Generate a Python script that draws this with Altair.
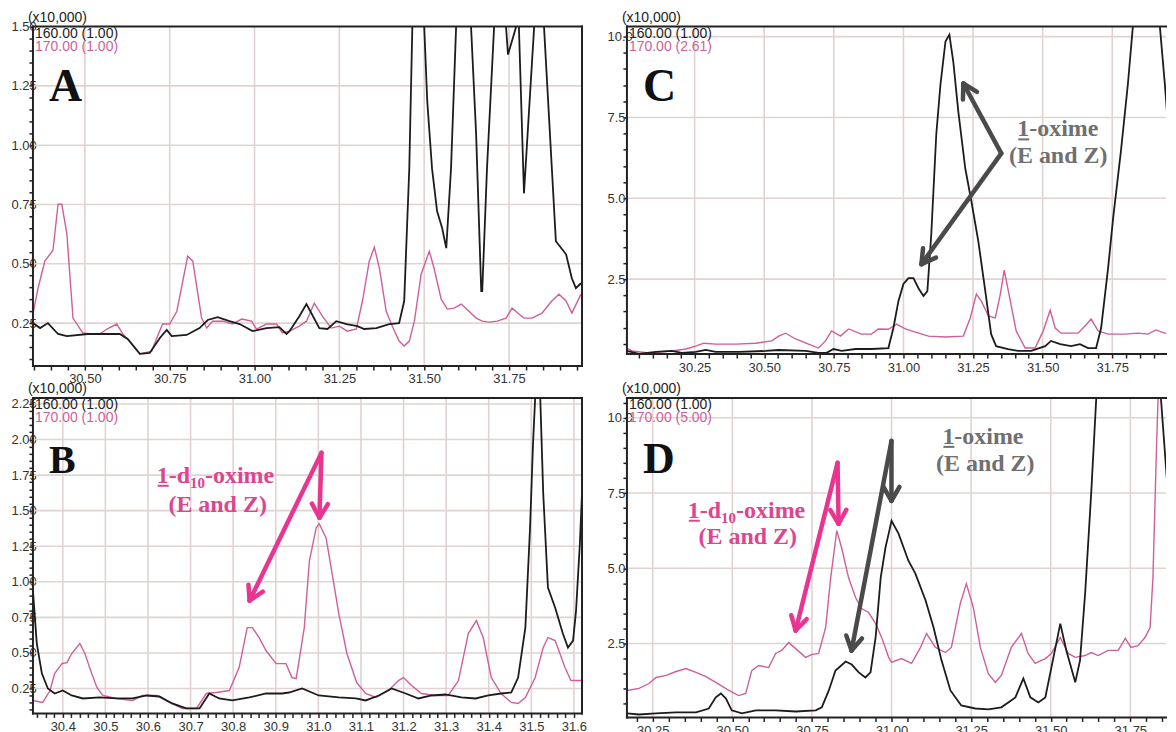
import math
import altair as alt
import pandas as pd

# ---------------- data (retention time in min, intensity x10,000) ----------------
A_t_black = [30.347, 30.368, 30.391, 30.421, 30.447, 30.509, 30.544, 30.603, 30.626, 30.662, 30.691, 30.721, 30.741, 30.756, 30.800, 30.838, 30.862, 30.891, 30.926, 30.956, 30.994, 31.035, 31.073, 31.094, 31.103, 31.132, 31.153, 31.191, 31.215, 31.241, 31.271, 31.303, 31.323, 31.359, 31.397, 31.426, 31.441, 31.456, 31.465, 31.482, 31.500, 31.509, 31.523, 31.538, 31.553, 31.565, 31.579, 31.594, 31.616, 31.638, 31.653, 31.668, 31.671, 31.685, 31.706, 31.724, 31.741, 31.747, 31.771, 31.775, 31.779, 31.794, 31.824, 31.838, 31.853, 31.888, 31.918, 31.935, 31.947, 31.962]
A_v_black = [0.250, 0.229, 0.250, 0.204, 0.195, 0.204, 0.204, 0.204, 0.183, 0.120, 0.124, 0.187, 0.221, 0.195, 0.200, 0.229, 0.263, 0.275, 0.258, 0.246, 0.216, 0.229, 0.233, 0.204, 0.216, 0.279, 0.330, 0.229, 0.225, 0.258, 0.246, 0.237, 0.225, 0.229, 0.246, 0.250, 0.343, 0.902, 1.500, 1.700, 1.500, 1.184, 0.902, 0.721, 0.650, 0.566, 0.902, 1.500, 1.700, 1.500, 1.045, 0.385, 0.385, 0.902, 1.500, 1.700, 1.500, 1.382, 1.500, 1.600, 1.500, 0.797, 1.500, 1.700, 1.500, 0.595, 0.540, 0.439, 0.397, 0.418]
A_t_pink = [30.347, 30.362, 30.382, 30.397, 30.406, 30.421, 30.432, 30.447, 30.465, 30.494, 30.521, 30.544, 30.565, 30.594, 30.612, 30.632, 30.662, 30.697, 30.712, 30.729, 30.750, 30.771, 30.803, 30.818, 30.844, 30.859, 30.876, 30.906, 30.935, 30.962, 30.991, 31.006, 31.035, 31.065, 31.082, 31.103, 31.132, 31.153, 31.176, 31.200, 31.226, 31.250, 31.273, 31.300, 31.318, 31.338, 31.353, 31.368, 31.388, 31.406, 31.426, 31.441, 31.456, 31.471, 31.491, 31.515, 31.529, 31.550, 31.568, 31.588, 31.609, 31.632, 31.653, 31.671, 31.691, 31.715, 31.741, 31.759, 31.779, 31.794, 31.818, 31.847, 31.876, 31.897, 31.918, 31.935, 31.962]
A_v_pink = [0.288, 0.397, 0.511, 0.540, 0.557, 0.751, 0.751, 0.625, 0.271, 0.208, 0.204, 0.204, 0.225, 0.246, 0.204, 0.174, 0.120, 0.132, 0.187, 0.246, 0.246, 0.300, 0.532, 0.511, 0.271, 0.229, 0.258, 0.258, 0.246, 0.267, 0.258, 0.225, 0.246, 0.246, 0.208, 0.216, 0.237, 0.258, 0.334, 0.279, 0.229, 0.237, 0.216, 0.225, 0.343, 0.511, 0.570, 0.481, 0.300, 0.237, 0.174, 0.153, 0.174, 0.258, 0.456, 0.553, 0.481, 0.351, 0.309, 0.313, 0.330, 0.300, 0.271, 0.258, 0.254, 0.258, 0.271, 0.313, 0.288, 0.271, 0.271, 0.292, 0.343, 0.372, 0.343, 0.292, 0.372]

B_t_black = [30.330, 30.339, 30.351, 30.365, 30.381, 30.400, 30.421, 30.447, 30.487, 30.526, 30.564, 30.597, 30.627, 30.657, 30.690, 30.721, 30.744, 30.767, 30.798, 30.838, 30.877, 30.915, 30.931, 30.962, 31.001, 31.048, 31.088, 31.111, 31.142, 31.172, 31.205, 31.235, 31.266, 31.298, 31.336, 31.369, 31.399, 31.429, 31.453, 31.469, 31.486, 31.497, 31.504, 31.509, 31.514, 31.521, 31.528, 31.539, 31.556, 31.574, 31.586, 31.598, 31.605, 31.614, 31.619]
B_v_black = [0.938, 0.566, 0.355, 0.250, 0.215, 0.236, 0.201, 0.180, 0.187, 0.180, 0.180, 0.201, 0.194, 0.145, 0.110, 0.110, 0.215, 0.180, 0.166, 0.187, 0.215, 0.215, 0.222, 0.250, 0.201, 0.187, 0.180, 0.166, 0.201, 0.250, 0.215, 0.180, 0.201, 0.208, 0.187, 0.180, 0.201, 0.215, 0.222, 0.327, 0.678, 1.380, 1.970, 2.290, 2.600, 2.290, 1.618, 0.959, 0.818, 0.636, 0.538, 0.587, 0.797, 1.270, 1.625]
B_t_pink = [30.330, 30.353, 30.370, 30.381, 30.398, 30.410, 30.421, 30.440, 30.452, 30.463, 30.480, 30.494, 30.526, 30.564, 30.587, 30.620, 30.650, 30.681, 30.714, 30.737, 30.760, 30.791, 30.814, 30.833, 30.845, 30.861, 30.877, 30.901, 30.924, 30.938, 30.948, 30.967, 30.979, 30.995, 31.002, 31.018, 31.030, 31.048, 31.067, 31.090, 31.111, 31.135, 31.165, 31.188, 31.200, 31.219, 31.242, 31.275, 31.305, 31.329, 31.352, 31.371, 31.387, 31.406, 31.429, 31.453, 31.469, 31.486, 31.509, 31.528, 31.539, 31.556, 31.579, 31.593, 31.617]
B_v_pink = [0.166, 0.152, 0.236, 0.355, 0.425, 0.432, 0.496, 0.566, 0.496, 0.397, 0.257, 0.201, 0.180, 0.166, 0.201, 0.201, 0.152, 0.110, 0.110, 0.215, 0.222, 0.236, 0.397, 0.678, 0.678, 0.608, 0.517, 0.425, 0.425, 0.327, 0.320, 0.678, 1.148, 1.380, 1.408, 1.310, 1.099, 0.776, 0.496, 0.292, 0.215, 0.187, 0.236, 0.306, 0.327, 0.271, 0.215, 0.201, 0.201, 0.306, 0.636, 0.727, 0.608, 0.327, 0.215, 0.152, 0.145, 0.187, 0.327, 0.538, 0.608, 0.587, 0.397, 0.306, 0.306]

C_t_black = [30.007, 30.050, 30.111, 30.168, 30.204, 30.254, 30.290, 30.326, 30.409, 30.505, 30.552, 30.649, 30.695, 30.724, 30.749, 30.778, 30.828, 30.885, 30.946, 30.964, 30.982, 31.000, 31.018, 31.036, 31.054, 31.072, 31.086, 31.100, 31.118, 31.133, 31.151, 31.165, 31.179, 31.197, 31.222, 31.244, 31.269, 31.294, 31.315, 31.333, 31.376, 31.412, 31.459, 31.509, 31.530, 31.563, 31.602, 31.634, 31.663, 31.692, 31.710, 31.735, 31.753, 31.781, 31.806, 31.824, 31.870, 31.921, 31.939, 31.957, 31.971]
C_v_black = [0.28, 0.19, 0.25, 0.28, 0.22, 0.25, 0.31, 0.25, 0.25, 0.28, 0.31, 0.28, 0.22, 0.22, 0.34, 0.28, 0.34, 0.34, 0.37, 0.99, 1.82, 2.35, 2.53, 2.53, 2.22, 1.98, 2.13, 3.89, 6.98, 8.52, 9.85, 10.06, 9.23, 7.69, 5.93, 4.91, 3.67, 2.13, 0.80, 0.43, 0.34, 0.28, 0.28, 0.43, 0.59, 0.49, 0.43, 0.49, 0.37, 0.37, 0.99, 2.84, 4.38, 6.45, 8.52, 10.31, 11.0, 10.31, 8.52, 6.45, 4.91]
C_t_pink = [30.007, 30.025, 30.086, 30.168, 30.219, 30.254, 30.283, 30.326, 30.398, 30.470, 30.527, 30.552, 30.577, 30.613, 30.659, 30.695, 30.720, 30.742, 30.774, 30.803, 30.849, 30.885, 30.910, 30.946, 30.975, 31.007, 31.043, 31.090, 31.151, 31.215, 31.240, 31.262, 31.280, 31.305, 31.330, 31.348, 31.362, 31.384, 31.405, 31.437, 31.473, 31.502, 31.527, 31.545, 31.566, 31.627, 31.652, 31.674, 31.699, 31.735, 31.796, 31.842, 31.878, 31.907, 31.939, 31.971]
C_v_pink = [0.37, 0.28, 0.22, 0.28, 0.34, 0.43, 0.52, 0.49, 0.49, 0.52, 0.59, 0.74, 0.83, 0.65, 0.49, 0.37, 0.59, 0.90, 0.74, 0.96, 0.80, 0.80, 0.96, 0.95, 1.11, 0.96, 0.86, 0.74, 0.71, 0.74, 1.30, 2.04, 1.82, 1.36, 1.30, 2.04, 2.78, 1.82, 0.90, 0.37, 0.37, 0.90, 1.54, 0.99, 0.83, 0.83, 1.05, 1.27, 0.90, 0.80, 0.80, 0.83, 0.80, 0.93, 0.83, 0.80]

D_t_black = [30.169, 30.207, 30.260, 30.323, 30.386, 30.426, 30.448, 30.464, 30.480, 30.498, 30.530, 30.574, 30.636, 30.699, 30.762, 30.781, 30.803, 30.824, 30.856, 30.875, 30.897, 30.918, 30.934, 30.950, 30.966, 30.981, 30.991, 31.000, 31.022, 31.053, 31.075, 31.107, 31.132, 31.157, 31.185, 31.219, 31.263, 31.304, 31.345, 31.389, 31.414, 31.436, 31.461, 31.483, 31.502, 31.530, 31.549, 31.577, 31.592, 31.608, 31.627, 31.643, 31.700, 31.800, 31.846, 31.868, 31.887]
D_v_black = [0.18, 0.14, 0.18, 0.21, 0.21, 0.34, 0.71, 0.84, 0.67, 0.28, 0.18, 0.28, 0.28, 0.24, 0.28, 0.38, 0.94, 1.60, 1.90, 1.80, 1.54, 1.37, 1.54, 2.70, 4.69, 5.69, 6.15, 6.58, 6.15, 5.25, 4.82, 3.93, 3.03, 1.94, 0.94, 0.44, 0.34, 0.31, 0.38, 0.71, 1.34, 0.71, 0.54, 0.71, 1.70, 3.16, 2.27, 1.21, 1.94, 4.16, 7.48, 10.66, 12.0, 12.0, 10.66, 7.48, 4.16]
D_t_pink = [30.169, 30.207, 30.238, 30.260, 30.292, 30.323, 30.354, 30.386, 30.417, 30.448, 30.489, 30.520, 30.542, 30.561, 30.583, 30.614, 30.636, 30.655, 30.677, 30.699, 30.730, 30.749, 30.771, 30.793, 30.809, 30.828, 30.843, 30.865, 30.887, 30.906, 30.928, 30.950, 30.969, 30.991, 31.000, 31.031, 31.063, 31.091, 31.110, 31.138, 31.169, 31.188, 31.216, 31.235, 31.257, 31.279, 31.304, 31.326, 31.345, 31.376, 31.408, 31.429, 31.451, 31.483, 31.502, 31.530, 31.555, 31.577, 31.608, 31.627, 31.649, 31.680, 31.712, 31.734, 31.752, 31.774, 31.796, 31.812, 31.821, 31.831, 31.837, 31.870]
D_v_pink = [0.94, 1.01, 1.17, 1.37, 1.44, 1.57, 1.67, 1.54, 1.40, 1.21, 0.94, 0.77, 0.84, 1.60, 1.77, 1.70, 2.17, 2.27, 2.53, 2.33, 2.04, 2.13, 2.17, 3.03, 4.69, 6.25, 5.69, 4.69, 4.03, 3.66, 3.53, 3.16, 2.70, 2.04, 1.87, 2.00, 1.84, 2.37, 2.83, 2.37, 2.20, 2.37, 3.83, 4.49, 3.69, 2.37, 1.50, 1.21, 1.44, 2.37, 2.83, 2.17, 1.84, 2.00, 2.17, 2.70, 2.17, 2.04, 2.10, 2.20, 2.10, 2.27, 2.27, 2.67, 2.37, 2.43, 2.70, 3.03, 4.69, 8.57, 10.66, 12.0]

# gridlines (major ticks)
A_grid_x = [30.50, 30.75, 31.00, 31.25, 31.50, 31.75]
A_grid_y = [0.25, 0.50, 0.75, 1.00, 1.25]
B_grid_x = [30.4, 30.5, 30.6, 30.7, 30.8, 30.9, 31.0, 31.1, 31.2, 31.3, 31.4, 31.5, 31.6]
B_grid_y = [0.25, 0.50, 0.75, 1.00, 1.25, 1.50, 1.75, 2.00, 2.25]
CD_grid_x = [30.25, 30.50, 30.75, 31.00, 31.25, 31.50, 31.75]
CD_grid_y = [2.5, 5.0, 7.5, 10.0]

# minor tick positions
A_ticks_x = [round(30.35 + 0.05 * i, 2) for i in range(33)]
A_ticks_y = [round(0.10 + 0.05 * i, 2) for i in range(29)]
B_ticks_x = [round(30.34 + 0.02 * i, 2) for i in range(64)]
B_ticks_y = [round(0.10 + 0.05 * i, 2) for i in range(44)]
C_ticks_x = [round(30.05 + 0.05 * i, 2) for i in range(38)]
C_ticks_y = [round(0.5 + 0.5 * i, 1) for i in range(20)]
D_ticks_x = [round(30.20 + 0.05 * i, 2) for i in range(34)]
D_ticks_y = [round(0.5 + 0.5 * i, 1) for i in range(21)]

Q_EXPR = "abs(datum.value*4 - round(datum.value*4)) < 0.001 ? format(datum.value, '.2f') : ''"
T_EXPR = "abs(datum.value*10 - round(datum.value*10)) < 0.001 ? format(datum.value, '.1f') : ''"
H_EXPR = "abs(datum.value/2.5 - round(datum.value/2.5)) < 0.001 ? format(datum.value, '.1f') : ''"

# ---------------- styles ----------------
PINK_LINE = "#cf5f98"
BLACK_LINE = "#1c1c1c"
GRID = "#e0d3d1"
FRAME = "#222222"
ARROW_PINK = "#e8358f"
TEXT_PINK = "#dc4690"
ARROW_GREY = "#4a4a4a"
TEXT_GREY = "#707070"
SANS = "Liberation Sans"
SERIF = "Liberation Serif"

ONE = alt.Data(values=[{"k": 1}])


def text(x, y, s, size, color, font=SANS, weight="normal", align="left"):
    return alt.Chart(ONE).mark_text(
        text=s, align=align, baseline="alphabetic", font=font,
        fontSize=size, fontWeight=weight, color=color
    ).encode(x=alt.value(x), y=alt.value(y))


def seg(x1, y1, x2, y2, color, width, cap="round"):
    return alt.Chart(ONE).mark_rule(color=color, strokeWidth=width, strokeCap=cap).encode(
        x=alt.value(x1), y=alt.value(y1), x2=alt.value(x2), y2=alt.value(y2))


def arrow(vx, vy, tx, ty, color, width=4.5, head=16, spread=30):
    dx, dy = tx - vx, ty - vy
    n = math.hypot(dx, dy)
    ux, uy = dx / n, dy / n
    out = [seg(vx, vy, tx, ty, color, width)]
    for sgn in (1, -1):
        a = math.radians(spread * sgn)
        cx = ux * math.cos(a) - uy * math.sin(a)
        cy = ux * math.sin(a) + uy * math.cos(a)
        out.append(seg(tx, ty, tx - head * cx, ty - head * cy, color, width))
    return out


def d10_label(x0, y0, cx2, y2, color, fs=24, sub=15):
    out = [text(x0, y0, "1", fs, color, SERIF, "bold"),
           seg(x0 + 1, y0 + 3, x0 + 0.5 * fs, y0 + 3, color, 2, "butt")]
    x = x0 + 0.5 * fs
    out.append(text(x, y0, "-d", fs, color, SERIF, "bold"))
    x += 0.889 * fs
    out.append(text(x, y0 + 5, "10", sub, color, SERIF, "bold"))
    x += 1.0 * sub
    out.append(text(x, y0, "-oxime", fs, color, SERIF, "bold"))
    out.append(text(cx2, y2, "(E and Z)", fs, color, SERIF, "bold", "center"))
    return out


def oxime_label(x0, y0, cx2, y2, color, fs=24):
    out = [text(x0, y0, "1", fs, color, SERIF, "bold"),
           seg(x0 + 1, y0 + 3, x0 + 0.5 * fs, y0 + 3, color, 2, "butt"),
           text(x0 + 0.5 * fs, y0, "-oxime", fs, color, SERIF, "bold"),
           text(cx2, y2, "(E and Z)", fs, color, SERIF, "bold", "center")]
    return out


def panel(w, h, xdom, ydom, tb, vb, tp, vp, gxv, gyv, xt, yt, xexpr, yexpr,
          ylabpad, pink_hdr, letter, letter_size, extra, right_border=True):
    xs = alt.Scale(domain=xdom, nice=False, zero=False)
    ys = alt.Scale(domain=ydom, nice=False, zero=False)
    xa = alt.Axis(values=xt, labelExpr=xexpr, grid=False, domain=False, tickSize=4,
                  tickWidth=1.5, tickColor=FRAME, labelFont=SANS, labelFontSize=13,
                  labelColor="#333333", labelPadding=3, labelFlush=False,
                  labelOverlap=False, title=None)
    ya = alt.Axis(values=yt, labelExpr=yexpr, grid=False, domain=False, tickSize=4,
                  tickWidth=1.5, tickColor=FRAME, labelFont=SANS, labelFontSize=13,
                  labelColor="#333333", labelAlign="left", labelPadding=ylabpad,
                  labelBaseline="middle", labelFlush=False, labelOverlap=False, title=None)
    gx = alt.Chart(pd.DataFrame({"g": gxv})).mark_rule(color=GRID, strokeWidth=1.6).encode(
        x=alt.X("g:Q", scale=xs, axis=xa, title=None))
    gy = alt.Chart(pd.DataFrame({"g": gyv})).mark_rule(color=GRID, strokeWidth=1.6).encode(
        y=alt.Y("g:Q", scale=ys, axis=ya, title=None))
    lp = alt.Chart(pd.DataFrame({"t": tp, "v": vp})).mark_line(
        color=PINK_LINE, strokeWidth=1.4, clip=True).encode(
        x=alt.X("t:Q", scale=xs, axis=xa, title=None),
        y=alt.Y("v:Q", scale=ys, axis=ya, title=None))
    lb = alt.Chart(pd.DataFrame({"t": tb, "v": vb})).mark_line(
        color=BLACK_LINE, strokeWidth=1.8, clip=True).encode(
        x=alt.X("t:Q", scale=xs, axis=xa, title=None),
        y=alt.Y("v:Q", scale=ys, axis=ya, title=None))
    frame = [seg(0, 0, w, 0, FRAME, 2, "square"), seg(0, h, w, h, FRAME, 2, "square"),
             seg(0, 0, 0, h, FRAME, 2, "square")]
    if right_border:
        frame.append(seg(w, 0, w, h, FRAME, 2, "square"))
    hdr = [text(-5, -5, "(x10,000)", 14, "#222222"),
           text(2, 11, "160.00 (1.00)", 14, "#222222"),
           text(2, 24, pink_hdr, 14, PINK_LINE)]
    let = text(16, 75, letter, letter_size, "#111111", SERIF, "bold")
    return alt.layer(gx, gy, lp, lb, *frame, *hdr, let, *extra).properties(width=w, height=h)


pA = panel(550, 340, [30.347, 31.965], [0.069, 1.50], A_t_black, A_v_black, A_t_pink, A_v_pink,
           A_grid_x, A_grid_y, A_ticks_x, A_ticks_y, Q_EXPR, Q_EXPR, 18,
           "170.00 (1.00)", "A", 46, [])

B_extra = d10_label(124, 85, 185, 114, TEXT_PINK) \
    + arrow(289, 55, 217, 203, ARROW_PINK) + arrow(289, 55, 287, 120, ARROW_PINK)
pB = panel(550, 316, [30.33, 31.619], [0.075, 2.292], B_t_black, B_v_black, B_t_pink, B_v_pink,
           B_grid_x, B_grid_y, B_ticks_x, B_ticks_y, T_EXPR, Q_EXPR, 18,
           "170.00 (1.00)", "B", 40, B_extra)

C_extra = oxime_label(391, 110, 432, 137, TEXT_GREY) \
    + arrow(375, 127, 337, 57, ARROW_GREY) + arrow(375, 127, 295, 238, ARROW_GREY)
pC = panel(540, 328, [30.007, 31.943], [0.185, 10.31], C_t_black, C_v_black, C_t_pink, C_v_pink,
           CD_grid_x, CD_grid_y, C_ticks_x, C_ticks_y, Q_EXPR, H_EXPR, 16,
           "170.00 (2.61)", "C", 46, C_extra, right_border=False)

D_extra = d10_label(61, 120, 121, 146, TEXT_PINK) \
    + oxime_label(316, 46, 359, 73, TEXT_GREY) \
    + arrow(211, 65, 169, 233, ARROW_PINK) + arrow(211, 65, 212, 126, ARROW_PINK) \
    + arrow(265, 43, 225, 253, ARROW_GREY) + arrow(265, 43, 265, 103, ARROW_GREY)
pD = panel(540, 320, [30.169, 31.862], [0.044, 10.66], D_t_black, D_v_black, D_t_pink, D_v_pink,
           CD_grid_x, CD_grid_y, D_ticks_x, D_ticks_y, Q_EXPR, H_EXPR, 16,
           "170.00 (5.00)", "D", 44, D_extra, right_border=False)

chart = alt.concat(pA, pC, pB, pD, columns=2, spacing={"row": 32, "column": 45},
                   bounds="flush").properties(
    padding={"left": 3, "top": 2, "right": 0, "bottom": 0}
).configure_view(stroke="transparent", strokeWidth=0)

chart.save("out.html", embed_options={"renderer": "svg", "actions": False})
